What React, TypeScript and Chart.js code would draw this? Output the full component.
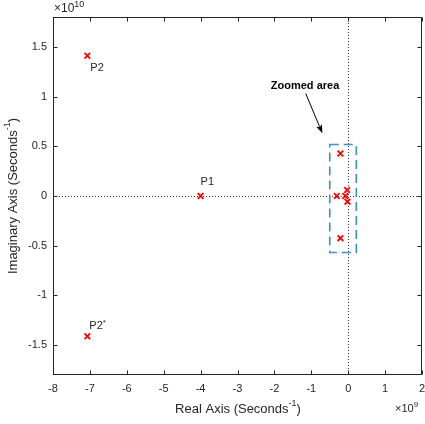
import React, { useEffect, useRef } from "react";
import { Chart, registerables } from "chart.js";

Chart.register(...registerables);

// Pole locations: real part (x 1e9 s^-1), imaginary part (x 1e10 s^-1)
const realParts = [-7.07, -7.07, -4.0, -0.21, -0.21, -0.31, -0.08, -0.03, -0.02];
const imagParts = [1.41, -1.41, 0, 0.428, -0.424, 0, 0, 0.06, -0.057];

const xTicks = [-8, -7, -6, -5, -4, -3, -2, -1, 0, 1, 2];
const yTicks = [-1.5, -1, -0.5, 0, 0.5, 1, 1.5];
const xRange = [-8, 2];
const yRange = [-1.8, 1.8];

// Annotations
const pointLabels = [
  { text: "P2", x: -7.07, y: 1.41 },
  { text: "P1", x: -4.0, y: 0 },
  { text: "P2*", x: -7.07, y: -1.41 },
];
const zoomBoxX = [-0.5, 0.22];
const zoomBoxY = [-0.568, 0.518];
const arrowFrom = [-1.15, 1.03];
const arrowTo = [-0.7, 0.63];
const zoomText = { text: "Zoomed area", x: -1.17, y: 1.11 };

const FONT = "'Liberation Sans', Arial, Helvetica, sans-serif";
const AX = "#262626";

function drawSup(ctx: CanvasRenderingContext2D, parts: { t: string; sup?: boolean }[], x: number, y: number, size: number, align: "center" | "left") {
  const big = `${size}px ${FONT}`;
  const small = `${Math.round(size * 0.72)}px ${FONT}`;
  let total = 0;
  for (const p of parts) {
    ctx.font = p.sup ? small : big;
    total += ctx.measureText(p.t).width;
  }
  let cx = align === "center" ? x - total / 2 : x;
  ctx.textAlign = "left";
  ctx.textBaseline = "middle";
  for (const p of parts) {
    ctx.font = p.sup ? small : big;
    ctx.fillText(p.t, cx, p.sup ? y - size * 0.4 : y);
    cx += ctx.measureText(p.t).width;
  }
}

const overlay = {
  id: "overlay",
  beforeDatasetsDraw(chart: any) {
    const ctx = chart.ctx as CanvasRenderingContext2D;
    const a = chart.chartArea;
    const xs = chart.scales.x;
    const ys = chart.scales.y;
    ctx.save();
    ctx.strokeStyle = "#333";
    ctx.lineWidth = 1;
    ctx.setLineDash([1, 2]);
    const x0 = Math.round(xs.getPixelForValue(0)) + 0.5;
    const y0 = Math.round(ys.getPixelForValue(0)) + 0.5;
    ctx.beginPath();
    ctx.moveTo(x0, a.top);
    ctx.lineTo(x0, a.bottom);
    ctx.moveTo(a.left, y0);
    ctx.lineTo(a.right, y0);
    ctx.stroke();
    ctx.restore();
  },
  afterDatasetsDraw(chart: any) {
    const ctx = chart.ctx as CanvasRenderingContext2D;
    const xs = chart.scales.x;
    const ys = chart.scales.y;
    ctx.save();
    const bx1 = xs.getPixelForValue(zoomBoxX[0]);
    const bx2 = xs.getPixelForValue(zoomBoxX[1]);
    const by1 = ys.getPixelForValue(zoomBoxY[1]);
    const by2 = ys.getPixelForValue(zoomBoxY[0]);
    ctx.strokeStyle = "#3a8fd0";
    ctx.lineWidth = 1.6;
    ctx.setLineDash([9, 5]);
    ctx.strokeRect(bx1, by1, bx2 - bx1, by2 - by1);
    ctx.setLineDash([]);

    const ax1 = xs.getPixelForValue(arrowFrom[0]);
    const ay1 = ys.getPixelForValue(arrowFrom[1]);
    const ax2 = xs.getPixelForValue(arrowTo[0]);
    const ay2 = ys.getPixelForValue(arrowTo[1]);
    const ang = Math.atan2(ay2 - ay1, ax2 - ax1);
    const hl = 9;
    ctx.strokeStyle = "#000";
    ctx.fillStyle = "#000";
    ctx.lineWidth = 1;
    ctx.beginPath();
    ctx.moveTo(ax1, ay1);
    ctx.lineTo(ax2 - Math.cos(ang) * hl * 0.8, ay2 - Math.sin(ang) * hl * 0.8);
    ctx.stroke();
    ctx.beginPath();
    ctx.moveTo(ax2, ay2);
    ctx.lineTo(ax2 - hl * Math.cos(ang - 0.35), ay2 - hl * Math.sin(ang - 0.35));
    ctx.lineTo(ax2 - hl * 0.75 * Math.cos(ang), ay2 - hl * 0.75 * Math.sin(ang));
    ctx.lineTo(ax2 - hl * Math.cos(ang + 0.35), ay2 - hl * Math.sin(ang + 0.35));
    ctx.closePath();
    ctx.fill();

    ctx.font = `bold 11px ${FONT}`;
    ctx.textAlign = "center";
    ctx.textBaseline = "middle";
    ctx.fillText(zoomText.text, xs.getPixelForValue(zoomText.x), ys.getPixelForValue(zoomText.y));

    ctx.font = `11px ${FONT}`;
    ctx.fillStyle = AX;
    ctx.textAlign = "left";
    for (const l of pointLabels) {
      const px = xs.getPixelForValue(l.x);
      const py = ys.getPixelForValue(l.y);
      if (l.text === "P1") {
        ctx.fillText("P1", px, py - 14);
      } else if (l.text === "P2") {
        ctx.fillText("P2", px + 3, py + 12);
      } else {
        ctx.font = `11px ${FONT}`;
        ctx.fillText("P2", px + 2, py - 10);
        const w = ctx.measureText("P2").width;
        ctx.font = `8px ${FONT}`;
        ctx.fillText("*", px + 2 + w, py - 13);
        ctx.font = `11px ${FONT}`;
      }
    }
    ctx.restore();
  },
  afterDraw(chart: any) {
    const ctx = chart.ctx as CanvasRenderingContext2D;
    const a = chart.chartArea;
    const xs = chart.scales.x;
    const ys = chart.scales.y;
    ctx.save();
    ctx.strokeStyle = AX;
    ctx.lineWidth = 1;
    const L = Math.round(a.left) + 0.5;
    const R = Math.round(a.right) - 0.5;
    const T = Math.round(a.top) + 0.5;
    const B = Math.round(a.bottom) - 0.5;
    ctx.strokeRect(L, T, R - L, B - T);
    ctx.beginPath();
    const tl = 4;
    for (const v of xTicks) {
      const p = Math.round(xs.getPixelForValue(v)) + 0.5;
      ctx.moveTo(p, B);
      ctx.lineTo(p, B - tl);
      ctx.moveTo(p, T);
      ctx.lineTo(p, T + tl);
    }
    for (const v of yTicks) {
      const p = Math.round(ys.getPixelForValue(v)) + 0.5;
      ctx.moveTo(L, p);
      ctx.lineTo(L + tl, p);
      ctx.moveTo(R, p);
      ctx.lineTo(R - tl, p);
    }
    ctx.stroke();

    ctx.fillStyle = AX;
    drawSup(ctx, [{ t: "Real Axis (Seconds" }, { t: "-1", sup: true }, { t: ")" }], 238, 409, 13, "center");
    ctx.save();
    ctx.translate(13, (a.top + a.bottom) / 2);
    ctx.rotate(-Math.PI / 2);
    drawSup(ctx, [{ t: "Imaginary Axis (Seconds" }, { t: "-1", sup: true }, { t: ")" }], 0, 0, 13, "center");
    ctx.restore();
    drawSup(ctx, [{ t: "\u00d710" }, { t: "10", sup: true }], a.left + 1, 9, 12, "left");
    drawSup(ctx, [{ t: "\u00d710" }, { t: "9", sup: true }], a.right - 27, 409, 11, "left");
    ctx.restore();
  },
};

export default function App() {
  const ref = useRef<HTMLCanvasElement | null>(null);
  useEffect(() => {
    if (!ref.current) return;
    const pts = realParts.map((x, i) => ({ x, y: imagParts[i] }));
    const tickFont = { family: FONT, size: 11 };
    const chart = new Chart(ref.current, {
      type: "scatter",
      data: {
        datasets: [
          {
            data: pts,
            pointStyle: "crossRot",
            pointRadius: 4,
            borderColor: "#ff0000",
            backgroundColor: "#ff0000",
            borderWidth: 1.8,
          },
        ],
      },
      plugins: [overlay],
      options: {
        responsive: false,
        animation: false,
        layout: { autoPadding: false, padding: { top: 17, right: 3, left: 0, bottom: 0 } },
        plugins: { legend: { display: false }, tooltip: { enabled: false } },
        scales: {
          x: {
            type: "linear",
            min: xRange[0],
            max: xRange[1],
            grid: { display: false, drawTicks: false },
            border: { display: false },
            ticks: { font: tickFont, color: AX, padding: 7, maxRotation: 0, callback: (v: any) => String(v) },
            afterBuildTicks: (s: any) => {
              s.ticks = xTicks.map((v) => ({ value: v }));
            },
            afterFit: (s: any) => {
              s.height = 49;
              s.paddingLeft = 0;
              s.paddingRight = 0;
            },
          },
          y: {
            type: "linear",
            min: yRange[0],
            max: yRange[1],
            grid: { display: false, drawTicks: false },
            border: { display: false },
            ticks: { font: tickFont, color: AX, padding: 6, callback: (v: any) => String(v) },
            afterBuildTicks: (s: any) => {
              s.ticks = yTicks.map((v) => ({ value: v }));
            },
            afterFit: (s: any) => {
              s.width = 53;
              s.paddingTop = 0;
              s.paddingBottom = 0;
            },
          },
        },
      },
    } as any);
    return () => chart.destroy();
  }, []);
  return (
    <div style={{ position: "fixed", left: 0, top: 0, width: 425, height: 424, background: "#fff" }}>
      <canvas ref={ref} width={425} height={424} style={{ width: 425, height: 424 }} />
    </div>
  );
}
